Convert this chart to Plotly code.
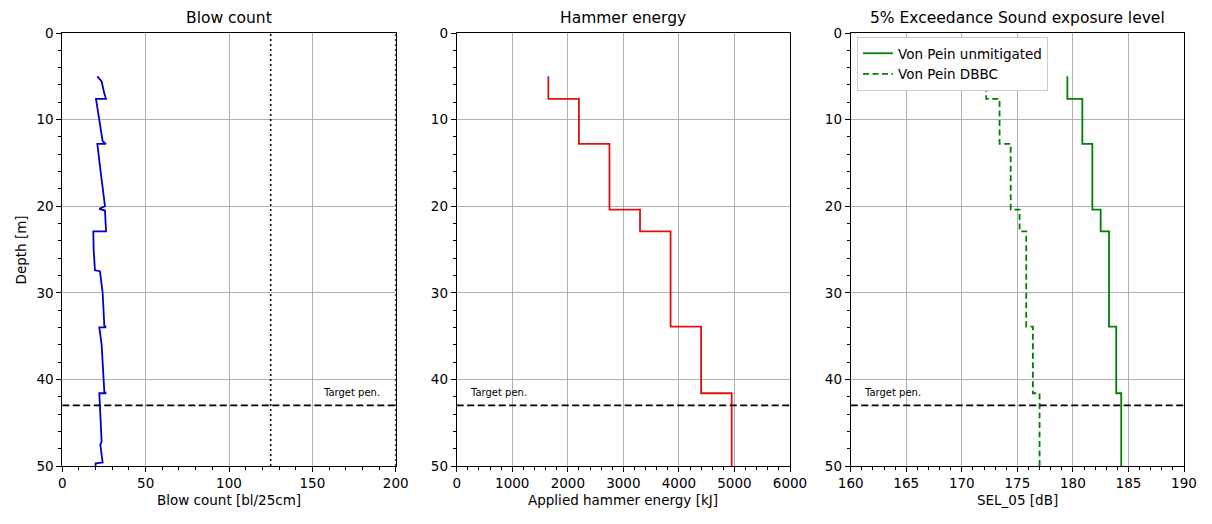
import numpy as np
import plotly.graph_objects as go

# ---------------- data ----------------
depth_breaks = [5.0, 7.6, 12.8, 20.4, 22.9, 33.9, 41.6, 50.0]
hammer_energy_kj = [1650, 2200, 2750, 3300, 3850, 4400, 4950]
sel_unmitigated_db = [179.5, 180.85, 181.75, 182.5, 183.25, 183.9, 184.35]
sel_dbbc_db = [172.2, 173.4, 174.4, 175.2, 175.8, 176.4, 177.0]

blow_depth = [5.0, 5.6, 7.0, 7.6, 7.6, 10.2, 12.5, 12.8, 12.8, 16.0, 20.0, 20.3,
              20.5, 22.8, 22.9, 22.9, 25.0, 27.4, 27.5, 30.0, 31.8, 33.8, 34.0,
              34.0, 36.0, 41.4, 41.6, 41.6, 47.2, 47.5, 49.6, 49.7, 50.0]
blow_count = [21.0, 23.6, 25.2, 26.2, 20.2, 22.2, 24.2, 26.2, 21.0, 23.0, 25.6, 22.2,
              25.6, 26.2, 26.2, 18.6, 18.8, 19.6, 22.6, 24.2, 24.8, 25.2, 26.2,
              22.2, 23.6, 25.2, 26.2, 22.2, 23.6, 22.8, 24.2, 20.0, 20.0]

target_pen_depth = 43.0
blow_ref_lines = [125, 200]

x1_range = [0, 200]
x2_range = [0, 6000]
x3_range = [160, 190]
depth_range = [50, 0]

panel_titles = ["Blow count", "Hammer energy", "5% Exceedance Sound exposure level"]
x_titles = ["Blow count [bl/25cm]", "Applied hammer energy [kJ]", "SEL_05 [dB]"]
y_title = "Depth [m]"
series_names = ["Von Pein unmitigated", "Von Pein DBBC"]


def step_path(breaks, values):
    xs, ys = [], []
    for i, v in enumerate(values):
        xs += [v, v]
        ys += [breaks[i], breaks[i + 1]]
    return xs, ys


W, H = 1212, 524
FONT = "DejaVu Sans"
px_dom = [(62.3, 395.7), (456.7, 790.0), (850.7, 1184.0)]
y_dom = [(H - 466) / H, (H - 33) / H]

fig = go.Figure()

fig.add_trace(go.Scatter(x=blow_count, y=blow_depth, mode="lines",
                         line=dict(color="#0000cd", width=1.8),
                         xaxis="x", yaxis="y", showlegend=False))

hx, hy = step_path(depth_breaks, hammer_energy_kj)
fig.add_trace(go.Scatter(x=hx, y=hy, mode="lines",
                         line=dict(color="#e01010", width=1.8),
                         xaxis="x2", yaxis="y2", showlegend=False))

ux, uy = step_path(depth_breaks, sel_unmitigated_db)
fig.add_trace(go.Scatter(x=ux, y=uy, mode="lines", name=series_names[0],
                         line=dict(color="#008000", width=1.8),
                         xaxis="x3", yaxis="y3"))
dx, dy = step_path(depth_breaks, sel_dbbc_db)
fig.add_trace(go.Scatter(x=dx, y=dy, mode="lines", name=series_names[1],
                         line=dict(color="#008000", width=1.8, dash="6px,3.5px"),
                         xaxis="x3", yaxis="y3"))

common = dict(showline=True, mirror=True, linecolor="black", linewidth=1,
              ticks="outside", ticklen=5, tickwidth=1, tickcolor="black",
              showgrid=True, gridcolor="#b0b0b0", gridwidth=0.8, zeroline=False,
              automargin=False,
              tickfont=dict(family=FONT, size=13.5, color="black"))

x_ranges = [x1_range, x2_range, x3_range]
x_dticks = [50, 1000, 5]
x_minor = [10, 200, 1]
layout = {}
for i in range(3):
    sfx = "" if i == 0 else str(i + 1)
    layout["xaxis" + sfx] = dict(common, domain=[px_dom[i][0] / W, px_dom[i][1] / W],
                                 range=x_ranges[i], dtick=x_dticks[i],
                                 anchor="y" + sfx,
                                 minor=dict(ticks="outside", ticklen=3, tickcolor="black",
                                            dtick=x_minor[i], showgrid=False))
    layout["yaxis" + sfx] = dict(common, domain=list(y_dom), range=depth_range,
                                 dtick=10, anchor="x" + sfx,
                                 minor=dict(ticks="outside", ticklen=3, tickcolor="black",
                                            dtick=2, showgrid=False))

fig.update_layout(**layout)

shapes = []
for i in range(3):
    sfx = "" if i == 0 else str(i + 1)
    shapes.append(dict(type="line", xref="x" + sfx + " domain", yref="y" + sfx,
                       x0=0, x1=1, y0=target_pen_depth, y1=target_pen_depth,
                       line=dict(color="black", width=1.6, dash="7px,3.5px")))
for xv in blow_ref_lines:
    shapes.append(dict(type="line", xref="x", yref="y domain", x0=xv, x1=xv, y0=0, y1=1,
                       line=dict(color="black", width=1.6, dash="2px,3px")))

annotations = []
for i in range(3):
    cx = (px_dom[i][0] + px_dom[i][1]) / 2 / W
    annotations.append(dict(text=panel_titles[i], x=cx, y=(H - 18) / H, xref="paper",
                            yref="paper", xanchor="center", yanchor="middle",
                            showarrow=False, font=dict(family=FONT, size=15.5, color="black")))
    annotations.append(dict(text=x_titles[i], x=cx, y=(H - 500) / H, xref="paper",
                            yref="paper", xanchor="center", yanchor="middle",
                            showarrow=False, font=dict(family=FONT, size=13.5, color="black")))
annotations.append(dict(text=y_title, x=20 / W, y=(H - 249.5) / H, xref="paper", yref="paper",
                        xanchor="center", yanchor="middle", textangle=-90, showarrow=False,
                        font=dict(family=FONT, size=13.5, color="black")))
target_x = [155, 200, 161]
for i in range(3):
    sfx = "" if i == 0 else str(i + 1)
    annotations.append(dict(text="Target pen.", x=target_x[i], y=41.5, xref="x" + sfx,
                            yref="y" + sfx, xanchor="left", yanchor="middle",
                            showarrow=False, font=dict(family=FONT, size=10, color="black")))

fig.update_layout(
    width=W, height=H, autosize=False,
    margin=dict(l=0, r=0, t=0, b=0, autoexpand=False),
    paper_bgcolor="white", plot_bgcolor="white",
    font=dict(family=FONT, color="black"),
    shapes=shapes, annotations=annotations,
    legend=dict(x=857 / W, y=(H - 37) / H, xanchor="left", yanchor="top",
                bgcolor="white", bordercolor="#cccccc", borderwidth=1,
                font=dict(family=FONT, size=13.5, color="black"),
                tracegroupgap=0, itemwidth=30),
)

fig.write_html("out.html")
